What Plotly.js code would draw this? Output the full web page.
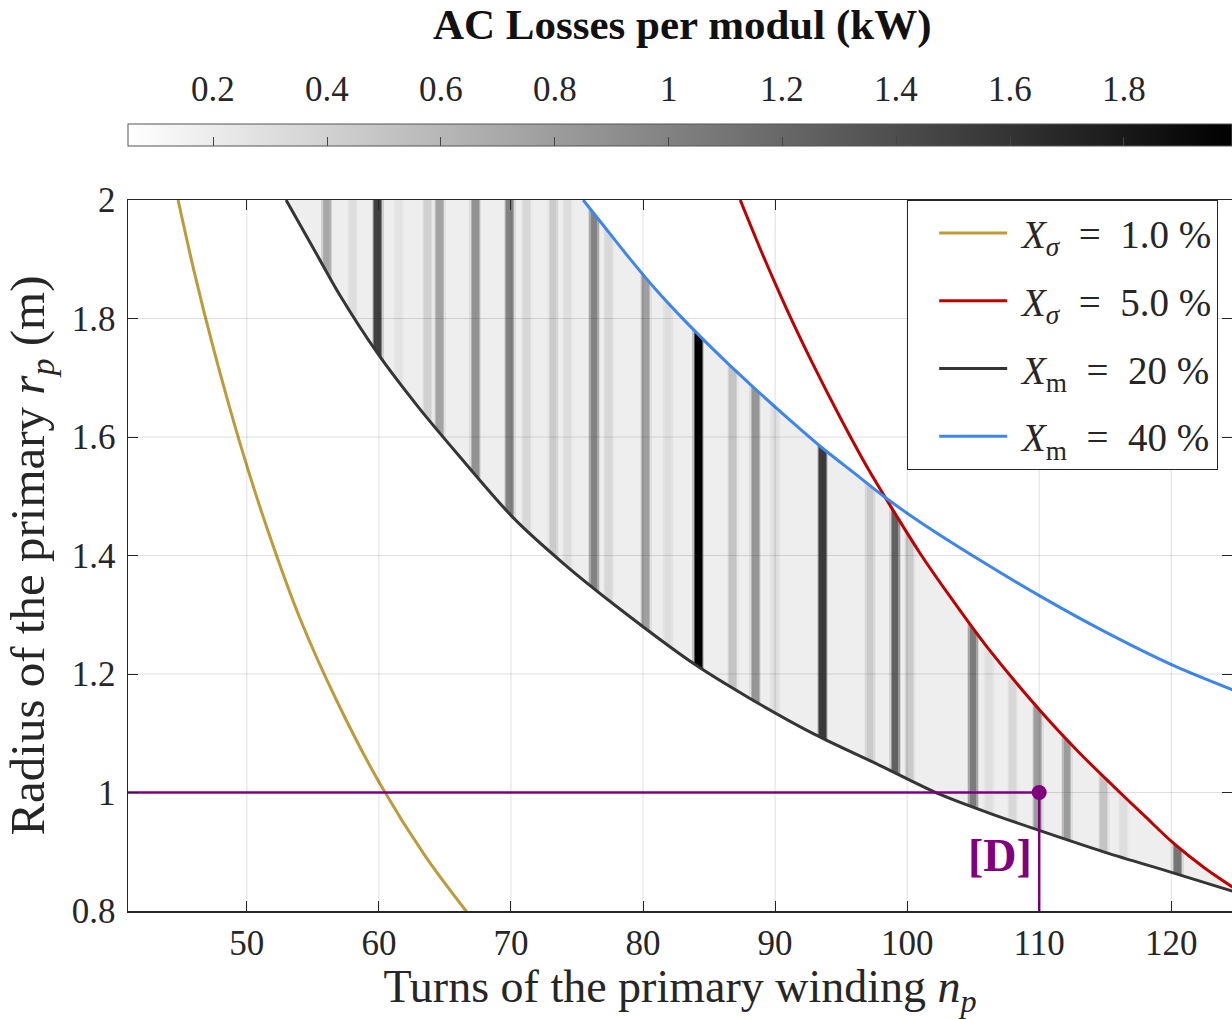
<!DOCTYPE html>
<html><head><meta charset="utf-8">
<script src="https://cdn.plot.ly/plotly-3.0.1.min.js"></script>
<style>body{margin:0;background:#fff}#chart{width:1232px;height:1019px}</style>
</head><body><div id="chart"></div>
<script>
// ---------- axes / ticks ----------
const xRange = [41, 124.6];
const yRange = [0.8, 2.0];
const xTicks = [50, 60, 70, 80, 90, 100, 110, 120];
const yTicks = [0.8, 1, 1.2, 1.4, 1.6, 1.8, 2];
const yTickText = ['0.8', '1', '1.2', '1.4', '1.6', '1.8', '2'];
const cbRange = [0.05, 1.99];
const cbTicks = [0.2, 0.4, 0.6, 0.8, 1, 1.2, 1.4, 1.6, 1.8];
const cbTickText = ['0.2', '0.4', '0.6', '0.8', '1', '1.2', '1.4', '1.6', '1.8'];

// ---------- boundary curves ----------
const xs1N = [44.79, 46, 47.5, 49.5, 51.5, 54, 57, 60.2, 63.5, 66.6, 67];
const xs1R = [2.000, 1.880, 1.747, 1.588, 1.448, 1.295, 1.146, 1.010, 0.893, 0.800, 0.789];

const xs5N = [87.36, 89, 91, 93, 95, 97, 99, 101, 103.27, 106, 110.2, 113, 115.65, 118, 120.19, 122.5, 125];
const xs5R = [2.000, 1.911, 1.810, 1.717, 1.630, 1.548, 1.474, 1.403, 1.330, 1.247, 1.135, 1.068, 1.010, 0.960, 0.914, 0.873, 0.835];

const xm20N = [52.97, 55, 57, 60, 63, 66, 70.2, 74, 78, 84, 88, 93, 98, 102.26, 106, 110, 115, 120.2, 125];
const xm20R = [2.000, 1.920, 1.841, 1.738, 1.650, 1.570, 1.463, 1.386, 1.314, 1.215, 1.160, 1.098, 1.045, 0.999, 0.967, 0.936, 0.899, 0.864, 0.831];

const xm40N = [75.47, 77, 79, 81, 83.3, 86, 88.5, 91, 93.6, 96, 98.22, 101, 105, 110.34, 115, 120.19, 125];
const xm40R = [2.000, 1.957, 1.901, 1.848, 1.793, 1.733, 1.681, 1.631, 1.581, 1.539, 1.500, 1.456, 1.399, 1.328, 1.271, 1.214, 1.170];

// ---------- AC losses: stripes of high loss at certain turn numbers ----------
const stripeN    = [56.05, 58.0, 59.9, 61.5, 63.7, 64.6, 67.3, 69.9, 71.2, 73.2, 74.3, 76.3, 77.4, 80.2, 81.9, 84.2, 86.8, 88.5, 90.0, 93.6, 97.2, 99.1, 100.2, 105.0, 106.2, 108.0, 109.9, 112.1, 114.9, 116.4, 120.5];
const stripeLoss = [0.72, 0.30, 1.50, 0.26, 0.40, 0.75, 0.88, 1.00, 0.35, 0.45, 0.30, 1.00, 0.35, 0.78, 0.30, 2.00, 0.50, 0.85, 0.30, 1.55, 0.45, 1.25, 0.45, 1.05, 0.30, 0.35, 0.80, 0.80, 0.50, 0.30, 1.10];
const backgroundLoss = 0.18;

// ---------- design point [D] ----------
const designN = 110;
const designR = 1.0;
const designLabel = '[D]';

// ---------- helpers ----------
function interp(xa, ya, x) {
  if (x < xa[0] || x > xa[xa.length - 1]) return NaN;
  for (let i = 0; i < xa.length - 1; i++) {
    if (x >= xa[i] && x <= xa[i + 1]) {
      const t = (x - xa[i]) / (xa[i + 1] - xa[i]);
      return ya[i] + t * (ya[i + 1] - ya[i]);
    }
  }
  return NaN;
}
const coreW = 0.22, edgeW = 0.44;
function lossAt(n) {
  let v = backgroundLoss;
  for (let k = 0; k < stripeN.length; k++) {
    const d = Math.abs(n - stripeN[k]);
    let w = 0;
    if (d <= coreW) w = 1;
    else if (d < edgeW) w = 1 - (d - coreW) / (edgeW - coreW);
    v = Math.max(v, backgroundLoss + w * (stripeLoss[k] - backgroundLoss));
  }
  return v;
}

// heatmap cell grid
const gridX = [], gridY = [];
for (let i = 0; i <= 720; i++) gridX.push(+(52.9 + i * 0.1).toFixed(2));
for (let j = 0; j <= 300; j++) gridY.push(+(0.8 + j * 0.004).toFixed(4));
const z = gridY.map(y => gridX.map(x => {
  const lo = interp(xm20N, xm20R, x);
  if (isNaN(lo)) return null;
  let up1 = interp(xm40N, xm40R, x); if (isNaN(up1)) up1 = Infinity;
  let up2 = interp(xs5N, xs5R, x); if (isNaN(up2)) up2 = Infinity;
  const up = Math.min(up1, up2, 2.0);
  if (y < lo || y > up) return null;
  return lossAt(x);
}));

const purple = '#800080';
const sp = '\u2002';
const traces = [
  {
    type: 'heatmap', x: gridX, y: gridY, z: z, zmin: cbRange[0], zmax: cbRange[1],
    colorscale: [[0, '#ffffff'], [1, '#000000']], hoverinfo: 'skip', showlegend: false,
    colorbar: {
      orientation: 'h', x: 0.5, xanchor: 'center', y: 1.0618, yanchor: 'bottom',
      len: 1, lenmode: 'fraction', thickness: 22, thicknessmode: 'pixels',
      xpad: 0, ypad: 0, outlinewidth: 1, outlinecolor: '#555',
      tickmode: 'array', tickvals: cbTicks, ticks: 'inside', ticklen: 9, tickcolor: '#444',
      showticklabels: false
    }
  },
  { type: 'scatter', mode: 'lines', x: xs1N, y: xs1R, name: '\u00a0<i>X</i><sub><i>σ</i></sub>' + sp + '=' + sp + '1.0 %', legendgroup: 'a',
    line: { color: '#BE9B3A', width: 3, shape: 'spline', smoothing: 0.8 } },
  { type: 'scatter', mode: 'lines', x: xs5N, y: xs5R, name: '\u00a0<i>X</i><sub><i>σ</i></sub>' + sp + '=' + sp + '5.0 %', legendgroup: 'b',
    line: { color: '#BF0000', width: 3, shape: 'spline', smoothing: 0.8 } },
  { type: 'scatter', mode: 'lines', x: xm20N, y: xm20R, name: '\u00a0<i>X</i><sub>m</sub>' + sp + '=' + sp + '20 %', legendgroup: 'c',
    line: { color: '#353535', width: 3, shape: 'spline', smoothing: 0.8 } },
  { type: 'scatter', mode: 'lines', x: xm40N, y: xm40R, name: '\u00a0<i>X</i><sub>m</sub>' + sp + '=' + sp + '40 %', legendgroup: 'd',
    line: { color: '#3D86EE', width: 3, shape: 'spline', smoothing: 0.8 } },
  { type: 'scatter', mode: 'lines', x: [xRange[0], designN], y: [designR, designR], showlegend: false,
    line: { color: purple, width: 2.5 }, hoverinfo: 'skip' },
  { type: 'scatter', mode: 'lines', x: [designN, designN], y: [yRange[0], designR], showlegend: false,
    line: { color: purple, width: 2.5 }, hoverinfo: 'skip' },
  { type: 'scatter', mode: 'markers', x: [designN], y: [designR], showlegend: false,
    marker: { color: purple, size: 15 } }
];

const gridColor = 'rgba(38,38,38,0.15)';
const shapes = [];
xTicks.forEach(v => shapes.push({ type: 'line', xref: 'x', yref: 'paper', x0: v, x1: v, y0: 0, y1: 1, layer: 'above', line: { color: gridColor, width: 1 } }));
yTicks.slice(1, -1).forEach(v => shapes.push({ type: 'line', xref: 'paper', yref: 'y', x0: 0, x1: 1, y0: v, y1: v, layer: 'above', line: { color: gridColor, width: 1 } }));

const annotations = cbTicks.map((v, i) => ({
  xref: 'paper', yref: 'paper', x: (v - cbRange[0]) / (cbRange[1] - cbRange[0]), y: 1.156,
  xanchor: 'center', yanchor: 'middle', text: cbTickText[i], showarrow: false,
  font: { size: 35, color: '#262626' }
}));
annotations.push({ xref: 'paper', yref: 'paper', x: 0.502, y: 1.246, xanchor: 'center', yanchor: 'middle',
  text: '<b>AC Losses per modul (kW)</b>', showarrow: false, font: { size: 43, color: '#111' } });
annotations.push({ xref: 'x', yref: 'y', x: designN - 3.0, y: designR - 0.107, xanchor: 'center', yanchor: 'middle',
  text: '<b>' + designLabel + '</b>', showarrow: false, font: { size: 46, color: purple } });

const axisCommon = {
  ticks: 'inside', ticklen: 10, tickwidth: 1, tickcolor: '#262626',
  showline: true, linecolor: '#262626', linewidth: 1.5, mirror: 'ticks',
  showgrid: false, zeroline: false, tickfont: { size: 35, color: '#262626' }
};

const layout = {
  width: 1232, height: 1019,
  margin: { l: 128, r: 0, t: 200, b: 108, autoexpand: false },
  paper_bgcolor: '#ffffff', plot_bgcolor: '#ffffff',
  font: { family: '"Liberation Serif", "DejaVu Serif", serif', color: '#262626', size: 35 },
  xaxis: Object.assign({}, axisCommon, {
    range: xRange, tickmode: 'array', tickvals: xTicks, ticklabelstandoff: 0,
    title: { text: 'Turns of the primary winding <i>n</i><sub><i>p</i></sub>', font: { size: 46, color: '#262626' }, standoff: 10 }
  }),
  yaxis: Object.assign({}, axisCommon, {
    range: yRange, tickmode: 'array', tickvals: yTicks, ticktext: yTickText, ticklabelstandoff: 4,
    title: { text: 'Radius of the primary <i>r</i><sub><i>p</i></sub> (m)', font: { size: 49, color: '#262626' }, standoff: 8 }
  }),
  legend: {
    x: 0.7056, y: 1, xanchor: 'left', yanchor: 'top', bgcolor: '#ffffff',
    bordercolor: '#262626', borderwidth: 1.2, font: { size: 39, color: '#262626' },
    tracegroupgap: 14, itemwidth: 68, indentation: 26
  },
  shapes: shapes,
  annotations: annotations
};

Plotly.newPlot('chart', traces, layout, { displayModeBar: false, staticPlot: true });
</script>
</body></html>
